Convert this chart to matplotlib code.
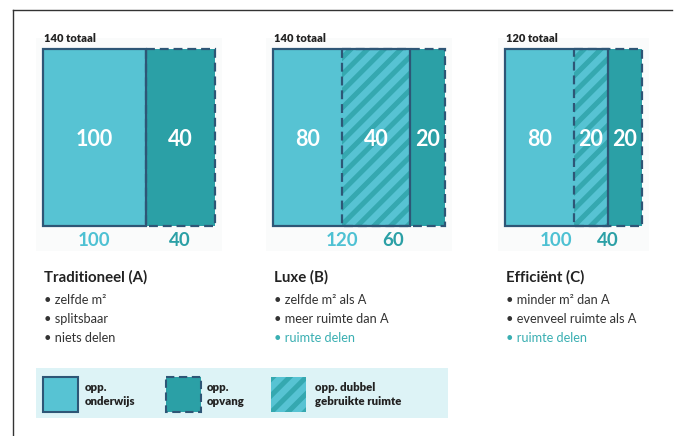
import matplotlib
matplotlib.use("Agg")
import matplotlib.pyplot as plt
from matplotlib.patches import Rectangle

plt.rcParams['font.family'] = ['Lato', 'DejaVu Sans']
plt.rcParams['hatch.linewidth'] = 3.6

# ---------------- data ----------------
scenarios = ["Traditioneel (A)", "Luxe (B)", "Efficiënt (C)"]
totals = [140, 140, 120]
onderwijs = [100, 120, 100]      # opp. onderwijs
opvang = [40, 60, 40]            # opp. opvang
gedeeld = [0, 40, 20]            # dubbel gebruikte ruimte
bullets = [
    ["zelfde m²", "splitsbaar", "niets delen"],
    ["zelfde m² als A", "meer ruimte dan A", "ruimte delen"],
    ["minder m² dan A", "evenveel ruimte als A", "ruimte delen"],
]
highlight = [[False, False, False], [False, False, True], [False, False, True]]
legend_labels = ["opp.\nonderwijs", "opp.\nopvang", "opp. dubbel\ngebruikte ruimte"]

# ---------------- layout (schematic grid cells) ----------------
block_x = [43, 273, 505]
onderwijs_cells = [(0, 3), (0, 4), (0, 3)]
opvang_cells = [(3, 5), (2, 5), (2, 4)]
cell = 34.3
top, bottom = 49, 226

C_OND = "#57C3D3"
C_OPV = "#2BA0A6"
C_HATCH = "#35A8B0"
C_EDGE = "#2E5676"
C_TXT = "#222222"
C_LINK = "#3AAFB2"

fig = plt.figure(figsize=(6.84, 4.36), dpi=100)
ax = fig.add_axes([0, 0, 1, 1])
ax.set_xlim(0, 684)
ax.set_ylim(436, 0)
ax.axis("off")

# outer frame
ax.plot([12.5, 12.5], [436, 10], color="#333333", lw=1.0)
ax.plot([12.5, 672], [10, 10], color="#333333", lw=1.0)

h = bottom - top
for i in range(3):
    x0 = block_x[i]
    o0, o1 = onderwijs_cells[i]
    p0, p1 = opvang_cells[i]
    ox0, ox1 = x0 + o0 * cell, x0 + o1 * cell
    px0, px1 = x0 + p0 * cell, x0 + p1 * cell

    # faint panel
    ax.add_patch(Rectangle((x0 - 7, top - 11), p1 * cell + 14, h + 36,
                           facecolor="#FAFBFB", edgecolor="none", zorder=0))

    # fills
    ax.add_patch(Rectangle((ox0, top), ox1 - ox0, h, facecolor=C_OND,
                           edgecolor="none", zorder=1))
    ax.add_patch(Rectangle((max(px0, ox1), top), px1 - max(px0, ox1), h,
                           facecolor=C_OPV, edgecolor="none", zorder=1))
    if gedeeld[i] > 0:
        ax.add_patch(Rectangle((px0, top), ox1 - px0, h, facecolor="none",
                               edgecolor=C_HATCH, hatch="//", lw=0, zorder=2))
    # borders: dashed opvang, then solid onderwijs on top
    ax.add_patch(Rectangle((px0, top), px1 - px0, h, facecolor="none",
                           edgecolor=C_EDGE, lw=1.6, linestyle=(0, (4, 2.2)),
                           zorder=3))
    ax.add_patch(Rectangle((ox0, top), ox1 - ox0, h, facecolor="none",
                           edgecolor=C_EDGE, lw=1.6, zorder=4))

    # inner labels
    ymid = (top + bottom) / 2 + 2
    only_ond = onderwijs[i] - gedeeld[i]
    only_opv = opvang[i] - gedeeld[i]
    ax.text((ox0 + min(px0, ox1)) / 2, ymid, f"{only_ond}", color="white",
            fontsize=15.5, fontweight="bold", ha="center", va="center", zorder=5)
    if gedeeld[i] > 0:
        ax.text((px0 + ox1) / 2, ymid, f"{gedeeld[i]}", color="white",
                fontsize=15.5, fontweight="bold", ha="center", va="center", zorder=5)
    ax.text((max(px0, ox1) + px1) / 2, ymid, f"{only_opv}", color="white",
            fontsize=15.5, fontweight="bold", ha="center", va="center", zorder=5)

    # totals and bottom labels
    ax.text(x0 + 1, 42, f"{totals[i]} totaal", color=C_TXT, fontsize=8,
            fontweight="heavy", ha="left", va="baseline")
    ax.text((ox0 + ox1) / 2, 240, f"{onderwijs[i]}", color="#4EC1D3",
            fontsize=13.5, fontweight="bold", ha="center", va="center")
    ax.text((px0 + px1) / 2, 240, f"{opvang[i]}", color=C_OPV,
            fontsize=13.5, fontweight="bold", ha="center", va="center")

    # descriptions
    ax.text(x0 + 1, 277, scenarios[i], color=C_TXT, fontsize=10.8,
            fontweight="bold", ha="left", va="center")
    for j, b in enumerate(bullets[i]):
        col = C_LINK if highlight[i][j] else "#333333"
        ax.text(x0 + 1, 300 + j * 19, "• " + b, color=col, fontsize=9.2,
                ha="left", va="center")

# legend panel
ax.add_patch(Rectangle((36, 368), 412, 50, facecolor="#DDF3F6",
                       edgecolor="none", zorder=0))
leg_x = [43, 166, 271]
leg_tx = [85, 207, 315]
sq = 35
for k in range(3):
    lx = leg_x[k]
    if k == 0:
        ax.add_patch(Rectangle((lx, 377), sq, sq, facecolor=C_OND,
                               edgecolor=C_EDGE, lw=1.5, zorder=2))
    elif k == 1:
        ax.add_patch(Rectangle((lx, 377), sq, sq, facecolor=C_OPV,
                               edgecolor=C_EDGE, lw=1.5,
                               linestyle=(0, (4, 2.2)), zorder=2))
    else:
        ax.add_patch(Rectangle((lx, 377), sq, sq, facecolor=C_OND,
                               edgecolor="none", zorder=2))
        ax.add_patch(Rectangle((lx, 377), sq, sq, facecolor="none",
                               edgecolor=C_HATCH, hatch="//", lw=0, zorder=3))
    ax.text(leg_tx[k], 394.5, legend_labels[k], color=C_TXT, fontsize=8.2,
            fontweight="heavy", ha="left", va="center", linespacing=1.25)

fig.savefig("out.png", dpi=100)
